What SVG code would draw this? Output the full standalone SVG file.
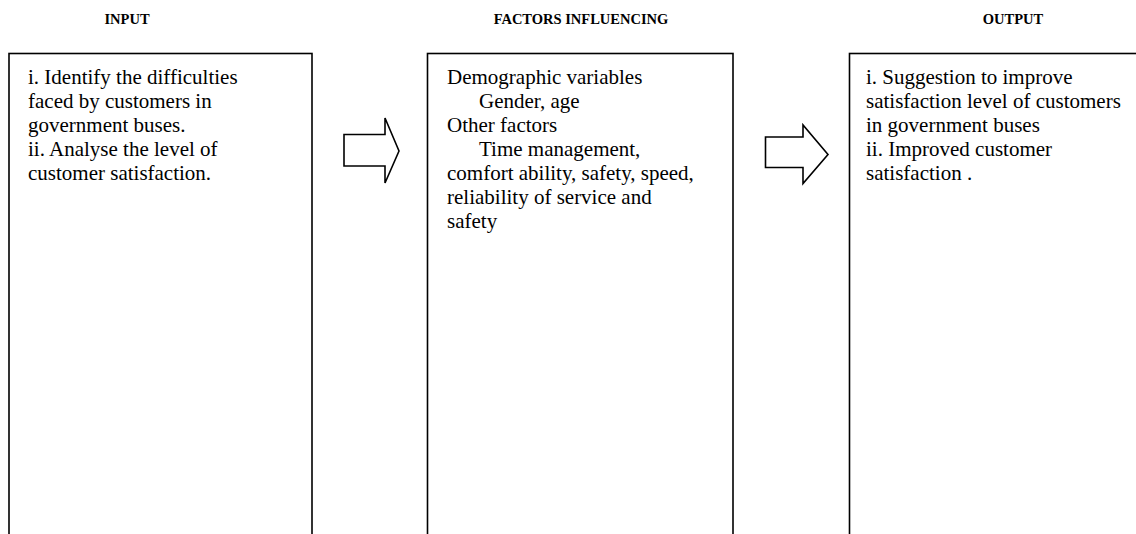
<svg xmlns="http://www.w3.org/2000/svg" width="1136" height="534" viewBox="0 0 1136 534">
<style>
.title{font-family:"Liberation Serif","Times New Roman",serif;font-weight:bold;font-size:14.5px;fill:#000;text-anchor:middle}
.body{font-family:"Liberation Serif","Times New Roman",serif;font-size:21px;fill:#000}
.box{fill:#fff;stroke:#000;stroke-width:1.6}
.arrow{fill:#fff;stroke:#000;stroke-width:1.6;stroke-linejoin:miter}
</style>
<rect width="1136" height="534" fill="#fff"/>
<g id="input">
<text class="title" x="127" y="24">INPUT</text>
<rect class="box" x="9" y="53.5" width="303" height="520"/>
<text class="body" x="28"><tspan x="28" y="84">i. Identify the difficulties</tspan><tspan x="28" y="108">faced by customers in</tspan><tspan x="28" y="132">government buses.</tspan><tspan x="28" y="156">ii. Analyse the level of</tspan><tspan x="28" y="180">customer satisfaction.</tspan></text>
</g>
<g id="factors">
<text class="title" x="581" y="24">FACTORS INFLUENCING</text>
<rect class="box" x="427.5" y="53.5" width="305.5" height="520"/>
<text class="body"><tspan x="447" y="84">Demographic variables</tspan><tspan x="479" y="108">Gender, age</tspan><tspan x="447" y="132">Other factors</tspan><tspan x="479" y="156">Time management,</tspan><tspan x="447" y="180">comfort ability, safety, speed,</tspan><tspan x="447" y="204">reliability of service and</tspan><tspan x="447" y="228">safety</tspan></text>
</g>
<g id="output">
<text class="title" x="1013" y="24">OUTPUT</text>
<rect class="box" x="849.5" y="53.5" width="320" height="520"/>
<text class="body"><tspan x="866" y="84">i. Suggestion to improve</tspan><tspan x="866" y="108">satisfaction level of customers</tspan><tspan x="866" y="132">in government buses</tspan><tspan x="866" y="156">ii. Improved customer</tspan><tspan x="866" y="180">satisfaction .</tspan></text>
</g>
<g id="connectors">
<polygon class="arrow" points="344,134.5 385,134.5 385,118 399,151 385,183 385,166 344,166"/>
<polygon class="arrow" points="765.5,137 803,137 803,125 828,154.5 803,183.5 803,167.5 765.5,167.5"/>
</g>
</svg>
